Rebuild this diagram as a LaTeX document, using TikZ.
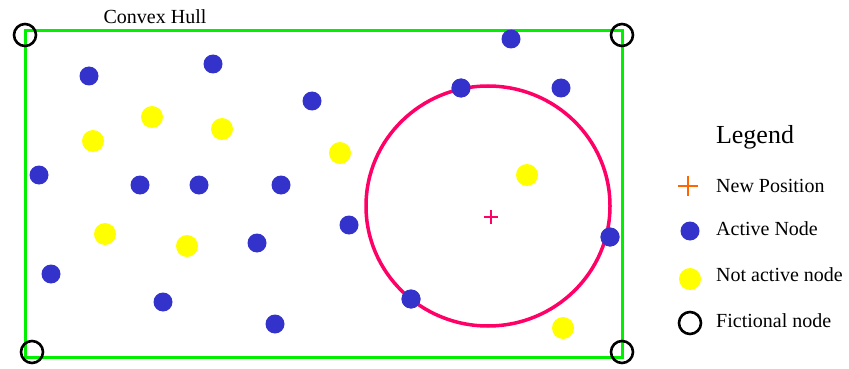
\documentclass[tikz,border=0pt]{standalone}
\usepackage{fontspec}
\setmainfont{Liberation Serif}
\usetikzlibrary{positioning}

\definecolor{hullgreen}{RGB}{0,240,0}
\definecolor{activeblue}{RGB}{51,51,204}
\definecolor{idleyellow}{RGB}{255,255,0}
\definecolor{rangered}{RGB}{255,0,102}
\definecolor{posorange}{RGB}{255,102,0}

\tikzset{
  active/.style={circle, fill=activeblue, inner sep=0pt, minimum size=19pt},
  idle/.style={circle, fill=idleyellow, inner sep=0pt, minimum size=22pt},
  fictional/.style={circle, draw=black, line width=2.6pt, inner sep=0pt, minimum size=22pt},
  label/.style={font=\fontsize{20}{24}\selectfont, inner sep=0pt},
}

\begin{document}
\begin{tikzpicture}[x=1pt, y=-1pt]
\useasboundingbox (0,0) rectangle (849,369);

% hull
\draw[hullgreen, line width=3pt] (25,31) rectangle (622,357);
\node[label] (hull) at (155,17) {Convex Hull};

% fictional nodes in the corners
\node[fictional] (f1) at (25,35) {};
\node[fictional] (f2) at (622,35) {};
\node[fictional] (f3) at (32,352) {};
\node[fictional] (f4) at (622,352) {};

% active nodes
\foreach \px/\py [count=\i] in {89/76, 213/64, 312/101, 39/175, 140/185, 199/185,
    281/185, 257/243, 349/225, 51/274, 163/302, 275/324, 461/88, 511/39,
    561/88, 610/237, 411/299}
  \node[active] (a\i) at (\px,\py) {};

% not active nodes
\foreach \px/\py [count=\i] in {93/141, 152/117, 222/129, 340/153, 105/234,
    187/246, 527/175, 563/328}
  \node[idle] (n\i) at (\px,\py) {};

% range around the new position
\coordinate (pos) at (491,217);
\draw[rangered, line width=3.5pt] (488,206) ellipse [x radius=122, y radius=120];
\draw[rangered, line width=1.6pt] ([xshift=-7pt]pos) -- ([xshift=7pt]pos)
  ([yshift=-7pt]pos) -- ([yshift=7pt]pos);
% dots on the circle sit on top of it
\foreach \i in {13,16,17}
  \node[active] at (a\i) {};

% legend
\node[font=\fontsize{26}{30}\selectfont, inner sep=0pt] (legend) at (755,137) {Legend};
\coordinate (l1) at (688,186);
\draw[posorange, line width=2.4pt] ([xshift=-10pt]l1) -- ([xshift=10pt]l1)
  ([yshift=-10pt]l1) -- ([yshift=10pt]l1);
\node[active] (l2) at (690,231) {};
\node[idle] (l3) at (690,279) {};
\node[fictional] (l4) at (690,323) {};
\node[label, anchor=west] (t1) at (716,186) {New Position};
\node[label, anchor=west] (t2) at (716,229) {Active Node};
\node[label, anchor=west] (t3) at (716,275) {Not active node};
\node[label, anchor=west] (t4) at (716,321) {Fictional node};
\end{tikzpicture}
\end{document}
